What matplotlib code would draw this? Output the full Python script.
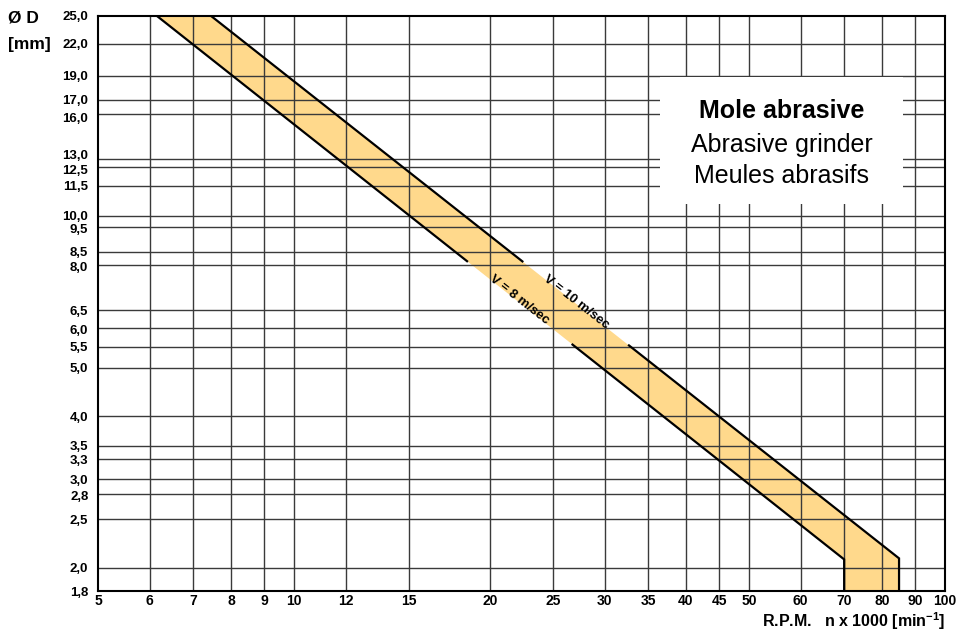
import matplotlib.pyplot as plt
import matplotlib.patches as patches
import matplotlib.transforms as mtransforms
import numpy as np

plt.rcParams['font.family'] = ['Liberation Sans', 'DejaVu Sans']
plt.rcParams['mathtext.fontset'] = 'custom'
plt.rcParams['mathtext.bf'] = 'Liberation Sans:bold'
plt.rcParams['mathtext.rm'] = 'Liberation Sans:bold'

# data ------------------------------
x_ticks = [5, 6, 7, 8, 9, 10, 12, 15, 20, 25, 30, 35, 40, 45, 50, 60, 70, 80, 90, 100]
y_ticks = [1.8, 2.0, 2.5, 2.8, 3.0, 3.3, 3.5, 4.0, 5.0, 5.5, 6.0, 6.5, 8.0, 8.5,
           9.5, 10.0, 11.5, 12.5, 13.0, 16.0, 17.0, 19.0, 22.0, 25.0]

# band edges (rpm x1000, diameter mm)
v8_rpm = [6.16, 70.0, 70.0]
v8_d = [25.0, 2.08, 1.8]
v10_rpm = [7.46, 85.0, 85.0]
v10_d = [25.0, 2.09, 1.8]

# where the edge lines are left out for the labels
v8_gap = [18.5, 26.7]
v10_gap = [22.5, 32.6]

band_col = '#FFD98C'
grid_col = '#3a3a3a'


def on_edge(xs, ys, x):
  # point on the (log-log straight) first part of an edge
  return np.exp(np.interp(np.log(x), np.log(xs[:2]), np.log(ys[:2])))


def draw_edge(ax, xs, ys, gap):
  y0 = on_edge(xs, ys, gap[0])
  y1 = on_edge(xs, ys, gap[1])
  ax.plot([xs[0], gap[0]], [ys[0], y0], color='black', lw=1.6, zorder=3,
          solid_capstyle='butt')
  ax.plot([gap[1]] + xs[1:], [y1] + ys[1:], color='black', lw=1.6, zorder=3,
          solid_capstyle='butt', solid_joinstyle='miter')


fig = plt.figure(figsize=(9.62, 6.3), dpi=100)
ax = fig.add_axes([98/962, 39/630, 847/962, 575/630])
ax.set_xscale('log')
ax.set_yscale('log')
ax.set_xlim(5, 100)
ax.set_ylim(1.8, 25)

# band ----------------------------------
ax.fill(v8_rpm + v10_rpm[::-1], v8_d + v10_d[::-1], color=band_col, lw=0, zorder=1)

# grid ----------------------------------
for xv in x_ticks[1:-1]:
  ax.axvline(xv, color=grid_col, lw=1.0, zorder=2)
for yv in y_ticks[1:-1]:
  ax.axhline(yv, color=grid_col, lw=1.0, zorder=2)

draw_edge(ax, v8_rpm, v8_d, v8_gap)
draw_edge(ax, v10_rpm, v10_d, v10_gap)

ax.text(27.1, 6.75, 'V = 10 m/sec', rotation=-38, rotation_mode='anchor',
        ha='center', va='center', fontsize=9.5, fontweight='bold', zorder=5)
ax.text(22.2, 6.81, 'V = 8 m/sec', rotation=-38, rotation_mode='anchor',
        ha='center', va='center', fontsize=9.5, fontweight='bold', zorder=5)

# title box ----------------------------------
box = patches.Rectangle((36.5, 10.57), 86.2 - 36.5, 18.9 - 10.57,
                        facecolor='white', edgecolor='none', zorder=4)
ax.add_patch(box)
bx = np.sqrt(36.5 * 86.2)
ax.text(bx, 16.2, 'Mole abrasive', ha='center', va='center', fontsize=18,
        fontweight='bold', zorder=5)
ax.text(bx, 13.86, 'Abrasive grinder', ha='center', va='center', fontsize=18, zorder=5)
ax.text(bx, 12.03, 'Meules abrasifs', ha='center', va='center', fontsize=18, zorder=5)

# ticks and labels ----------------------------------
ax.set_xticks(x_ticks)
ax.set_xticklabels([str(v) for v in x_ticks])
ax.set_yticks(y_ticks)
ax.set_yticklabels([('%.1f' % v).replace('.', ',') for v in y_ticks])
ax.minorticks_off()
ax.tick_params(length=0)
ax.tick_params(axis='y', pad=7, labelsize=9.5)
ax.tick_params(axis='x', pad=2.5, labelsize=10)
for lab in ax.get_xticklabels() + ax.get_yticklabels():
  lab.set_fontweight('bold')

# nudge crowded y labels (points)
nudge = {13.0: 3, 12.5: -1.5, 16.0: -2.5, 17.0: 0.5, 9.5: -1, 10.0: 0.5, 8.0: -1,
         6.0: -1, 3.3: -1, 2.8: -1}
for v, lab in zip(y_ticks, ax.get_yticklabels()):
  if v in nudge:
    lab.set_transform(lab.get_transform() +
                      mtransforms.ScaledTranslation(0, nudge[v]/72, fig.dpi_scale_trans))

for sp in ax.spines.values():
  sp.set_linewidth(1.5)
  sp.set_zorder(6)

fig.text(8/962, 1 - 18/630, 'Ø D', fontsize=12.5, fontweight='bold', va='center')
fig.text(8/962, 1 - 44/630, '[mm]', fontsize=12.5, fontweight='bold', va='center')
fig.text(945/962, 1 - 626.5/630, r'R.P.M.   n x 1000 [min$^{-1}$]', fontsize=11.5,
         fontweight='bold', ha='right', va='baseline')

plt.savefig('out.png', dpi=100)
